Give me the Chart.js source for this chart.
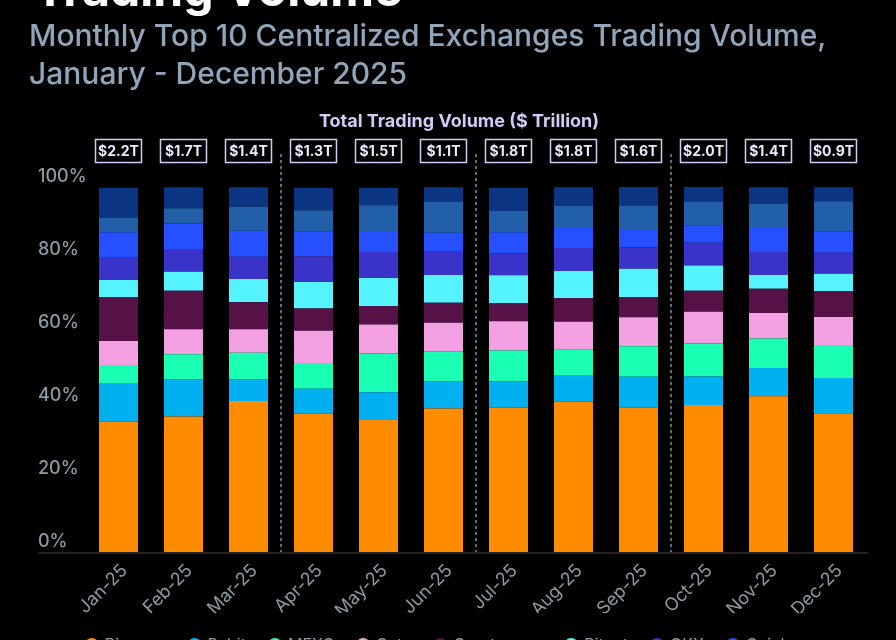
<!DOCTYPE html>
<html>
<head>
<meta charset="utf-8">
<script src="https://cdn.jsdelivr.net/npm/chart.js@4.4.0/dist/chart.umd.min.js"></script>
<style>
  html, body { margin: 0; padding: 0; background: #000; width: 896px; height: 640px; overflow: hidden; font-family: Inter, "Noto Sans", sans-serif; }
  #title { position: absolute; left: 34px; top: -37px; font-size: 48px; font-weight: 700; color: #fff; line-height: 52px; white-space: nowrap; }
  #subtitle { position: absolute; left: 29px; top: 16px; font-size: 30px; font-weight: 500; color: #8fa5bc; line-height: 38px; white-space: nowrap; }
  #header { position: absolute; left: 0; width: 918px; top: 110px; text-align: center; font-size: 18px; font-weight: 700; color: #d5c9f7; }
  #wrap { position: absolute; left: 0; top: 0; width: 896px; height: 703px; }
</style>
</head>
<body>
<div id="wrap"><canvas id="chart"></canvas></div>
<div id="title">Trading Volume</div>
<div id="subtitle">Monthly Top 10 Centralized Exchanges Trading Volume,<br>January - December 2025</div>
<div id="header">Total Trading Volume ($ Trillion)</div>
<script>
// Months on the x axis
const months = ["Jan-25", "Feb-25", "Mar-25", "Apr-25", "May-25", "Jun-25",
                "Jul-25", "Aug-25", "Sep-25", "Oct-25", "Nov-25", "Dec-25"];

// Total monthly volume, $ trillion (boxed labels)
const totals = [2.2, 1.7, 1.4, 1.3, 1.5, 1.1, 1.8, 1.8, 1.6, 2.0, 1.4, 0.9];

// Market share per exchange, % (bottom of stack first)
const binance   = [35.7, 37.1, 41.4, 37.9, 36.4, 39.3, 39.6, 41.2, 39.5, 40.3, 42.7, 38.0];
const bybit     = [10.4, 10.2,  5.9,  6.8,  7.4,  7.4,  7.2,  7.1,  8.5,  7.8,  7.7,  9.7];
const mexc      = [ 5.1,  6.9,  7.3,  7.1, 10.6,  8.3,  8.4,  7.1,  8.4,  9.0,  8.1,  9.0];
const gate      = [ 6.6,  6.8,  6.4,  8.8,  7.9,  7.8,  8.0,  7.7,  7.9,  8.7,  7.0,  7.7];
const cryptoCom = [12.0, 10.6,  7.4,  6.1,  5.1,  5.5,  5.0,  6.5,  5.5,  5.8,  6.6,  7.1];
const bitget    = [ 4.7,  5.2,  6.4,  7.3,  7.7,  7.6,  7.6,  7.4,  7.8,  6.9,  3.8,  4.7];
const okx       = [ 6.1,  6.2,  6.1,  7.0,  7.1,  6.6,  6.0,  6.3,  5.8,  6.2,  6.3,  5.8];
const coinbase  = [ 7.0,  7.0,  7.1,  6.9,  5.5,  5.0,  5.8,  5.5,  5.1,  4.8,  6.6,  5.9];
const htx       = [ 3.9,  4.2,  6.6,  5.7,  7.3,  8.4,  5.8,  6.0,  6.4,  6.5,  6.7,  8.2];
const upbit     = [ 8.3,  5.7,  5.3,  6.2,  4.8,  4.0,  6.4,  5.1,  5.1,  4.0,  4.4,  3.8];

// Y axis tick values
const yTicks = [0, 20, 40, 60, 80, 100];

const series = [
  { label: "Binance",    data: binance,   color: "#ff8c00" },
  { label: "Bybit",      data: bybit,     color: "#00b0f0" },
  { label: "MEXC",       data: mexc,      color: "#1affb4" },
  { label: "Gate",       data: gate,      color: "#f2a0e2" },
  { label: "Crypto.com", data: cryptoCom, color: "#561146" },
  { label: "Bitget",     data: bitget,    color: "#55f2ff" },
  { label: "OKX",        data: okx,       color: "#3a33c9" },
  { label: "Coinbase",   data: coinbase,  color: "#2650ff" },
  { label: "HTX",        data: htx,       color: "#2160a8" },
  { label: "Upbit",      data: upbit,     color: "#0b3483" },
];

// quarter separators sit after these month indexes
const quarterEnds = [2, 5, 8];

const axisGrey = "#8b9ba5";

// dashed quarter lines, boxed totals, baseline
const decorPlugin = {
  id: "decor",
  beforeDatasetsDraw(chart) {
    const { ctx, chartArea, scales } = chart;
    const x = scales.x;
    ctx.save();
    ctx.strokeStyle = "#7f8d96";
    ctx.lineWidth = 1.5;
    ctx.setLineDash([3, 3]);
    quarterEnds.forEach((i) => {
      const px = (x.getPixelForValue(i) + x.getPixelForValue(i + 1)) / 2;
      ctx.beginPath();
      ctx.moveTo(px, chartArea.top - 33);
      ctx.lineTo(px, chartArea.bottom);
      ctx.stroke();
    });
    ctx.restore();
  },
  afterDraw(chart) {
    const { ctx, chartArea, scales } = chart;
    const x = scales.x, y = scales.y;
    ctx.save();
    // baseline
    ctx.strokeStyle = "#2e2e2e";
    ctx.lineWidth = 1.5;
    ctx.beginPath();
    ctx.moveTo(y.left, y.getPixelForValue(0) + 1);
    ctx.lineTo(chartArea.right + 2, y.getPixelForValue(0) + 1);
    ctx.stroke();
    // boxed totals
    ctx.font = "bold 14px Inter, 'Noto Sans', sans-serif";
    ctx.textAlign = "center";
    ctx.textBaseline = "middle";
    const cy = chartArea.top - 36;
    totals.forEach((t, i) => {
      const cx = x.getPixelForValue(i);
      ctx.strokeStyle = "#d5c9f7";
      ctx.lineWidth = 1.5;
      ctx.strokeRect(cx - 23, cy - 11.5, 46, 23);
      ctx.fillStyle = "#eee8ff";
      ctx.fillText("$" + t.toFixed(1) + "T", cx, cy + 0.5);
    });
    ctx.restore();
  }
};

new Chart(document.getElementById("chart"), {
  type: "bar",
  data: {
    labels: months,
    datasets: series.map((s) => ({
      label: s.label,
      data: s.data,
      backgroundColor: s.color,
      borderWidth: 0,
      barPercentage: 0.6,
      categoryPercentage: 1.0,
    })),
  },
  options: {
    responsive: true,
    maintainAspectRatio: false,
    animation: false,
    layout: { padding: { top: 187, left: 38, right: 30, bottom: 0 } },
    plugins: {
      tooltip: { enabled: false },
      legend: {
        position: "bottom",
        labels: {
          usePointStyle: true,
          pointStyle: "circle",
          boxWidth: 10,
          boxHeight: 10,
          color: axisGrey,
          font: { family: "Inter", size: 16 },
          padding: 24,
        },
      },
    },
    scales: {
      x: {
        stacked: true,
        grid: { display: false },
        border: { display: false },
        ticks: {
          color: axisGrey,
          font: { family: "Inter", size: 18 },
          minRotation: 45,
          maxRotation: 45,
          padding: 0,
          labelOffset: 6,
        },
        afterFit(scale) { scale.height = 61; },
      },
      y: {
        stacked: true,
        min: 0,
        max: 100,
        grid: { display: false },
        border: { display: false },
        afterBuildTicks(scale) { scale.ticks = yTicks.map((v) => ({ value: v })); },
        ticks: {
          color: axisGrey,
          font: { family: "Inter", size: 18, weight: "500" },
          crossAlign: "far",
          labelOffset: -10,
          callback: (v) => v + "%",
        },
        afterFit(scale) { scale.width = 48; },
      },
    },
  },
  plugins: [decorPlugin],
});
</script>
</body>
</html>
